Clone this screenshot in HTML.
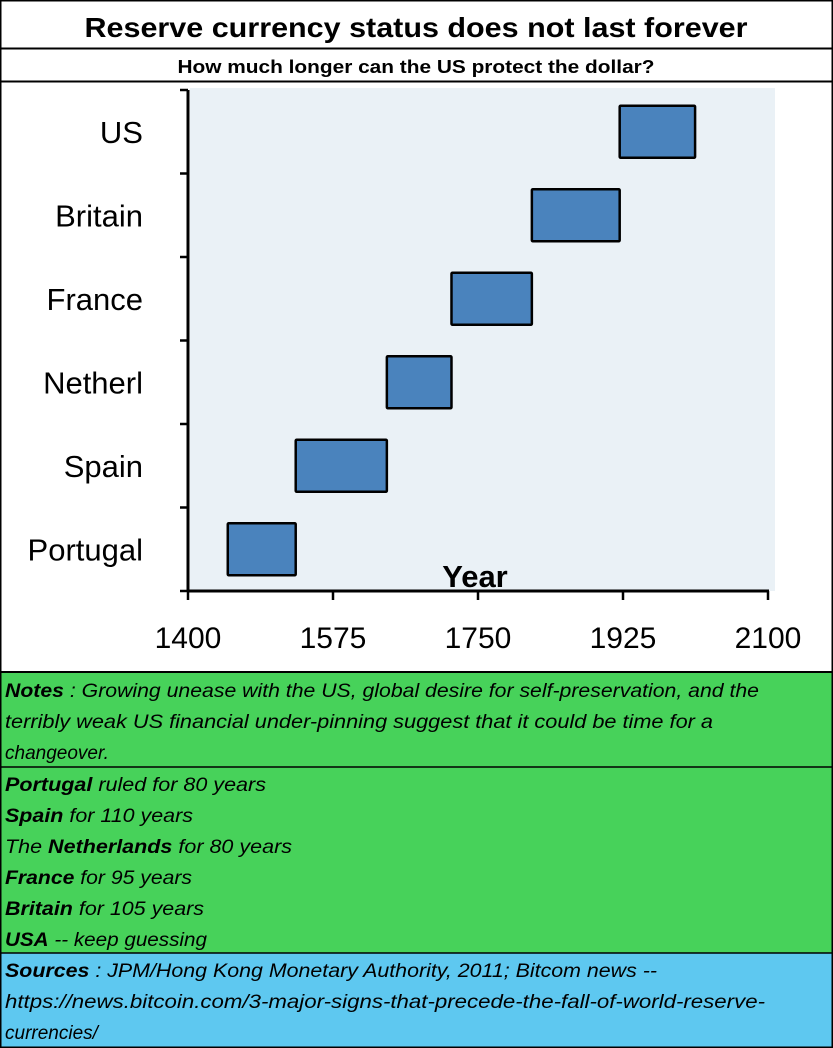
<!DOCTYPE html>
<html><head><meta charset="utf-8"><style>
html,body{margin:0;padding:0;background:#fff}
svg{display:block;font-family:"Liberation Sans",sans-serif}
</style></head><body>
<svg id="chart" width="833" height="1048" viewBox="0 0 833 1048">
<rect x="0" y="0" width="833" height="1048" fill="#fff"/>
<text x="416" y="37" text-anchor="middle" font-size="28" font-weight="bold" textLength="663" lengthAdjust="spacingAndGlyphs">Reserve currency status does not last forever</text>
<line x1="0" y1="48.5" x2="833" y2="48.5" stroke="#000" stroke-width="2"/>
<text x="416" y="73" text-anchor="middle" font-size="18" font-weight="bold" textLength="477" lengthAdjust="spacingAndGlyphs">How much longer can the US protect the dollar?</text>
<line x1="0" y1="81.5" x2="833" y2="81.5" stroke="#000" stroke-width="2"/>
<rect x="190" y="88" width="585" height="503" fill="#eaf1f6"/>
<g id="plot"></g>
<rect x="1" y="672" width="831" height="95" fill="#47d25a"/>
<rect x="1" y="767" width="831" height="186" fill="#47d25a"/>
<rect x="1" y="953" width="831" height="94" fill="#5ec8f0"/>
<line x1="0" y1="672" x2="833" y2="672" stroke="#000" stroke-width="2"/>
<line x1="0" y1="767" x2="833" y2="767" stroke="#000" stroke-width="1.5"/>
<line x1="0" y1="953" x2="833" y2="953" stroke="#000" stroke-width="1.5"/>
<g font-size="19" font-style="italic" fill="#000">
<text x="5" y="697" textLength="754" lengthAdjust="spacingAndGlyphs"><tspan font-weight="bold">Notes</tspan> : Growing unease with the US, global desire for self-preservation, and the</text>
<text x="5" y="728" textLength="708" lengthAdjust="spacingAndGlyphs">terribly weak US financial under-pinning suggest that it could be time for a</text>
<text x="5" y="759">changeover.</text>
<text x="5" y="791" textLength="261" lengthAdjust="spacingAndGlyphs"><tspan font-weight="bold">Portugal</tspan>  ruled for 80 years</text>
<text x="5" y="822" textLength="188" lengthAdjust="spacingAndGlyphs"><tspan font-weight="bold">Spain</tspan>  for 110 years</text>
<text x="5" y="853" textLength="287" lengthAdjust="spacingAndGlyphs">The  <tspan font-weight="bold">Netherlands</tspan>  for 80 years</text>
<text x="5" y="884" textLength="187" lengthAdjust="spacingAndGlyphs"><tspan font-weight="bold">France</tspan>  for 95 years</text>
<text x="5" y="915" textLength="199" lengthAdjust="spacingAndGlyphs"><tspan font-weight="bold">Britain</tspan>  for 105 years</text>
<text x="5" y="946" textLength="202" lengthAdjust="spacingAndGlyphs"><tspan font-weight="bold">USA</tspan>  -- keep guessing</text>
<text x="5" y="977" textLength="652" lengthAdjust="spacingAndGlyphs"><tspan font-weight="bold">Sources</tspan> : JPM/Hong Kong Monetary Authority, 2011; Bitcom news --</text>
<text x="5" y="1008" textLength="760" lengthAdjust="spacingAndGlyphs">https://news.bitcoin.com/3-major-signs-that-precede-the-fall-of-world-reserve-</text>
<text x="5" y="1039">currencies/</text>
</g>
<rect x="0.75" y="0.75" width="831.5" height="1046.5" fill="none" stroke="#000" stroke-width="1.5"/>
</svg>
<script>
const countries = ["Portugal","Spain","Netherl","France","Britain","US"];
const startYears = [1448, 1530, 1640, 1718, 1815, 1921];
const endYears = [1530, 1640, 1718, 1815, 1921, 2012];
const xTicks = [1400, 1575, 1750, 1925, 2100];

const NS = "http://www.w3.org/2000/svg";
const g = document.getElementById("plot");
const x0 = 188, x1 = 768, yTop = 90, yBot = 591;
const xScale = v => x0 + (v - 1400) / 700 * (x1 - x0);
const band = (yBot - yTop) / countries.length;
const yScale = i => yBot - (i + 0.5) * band;
function mk(tag, attrs) { const e = document.createElementNS(NS, tag); for (const k in attrs) e.setAttribute(k, attrs[k]); g.appendChild(e); return e; }

const yAxis = mk("line", {x1: x0, y1: yTop, x2: x0, y2: yBot + 1, stroke: "#000", "stroke-width": 3});


const xAxis = mk("line", {x1: x0 - 1, y1: yBot, x2: x1 + 1, y2: yBot, stroke: "#000", "stroke-width": 3});



for (let i = 0; i <= countries.length; i++) {
  const ty = yBot - i * band;
  const t = mk("line", {x1: x0 - 8, y1: ty, x2: x0, y2: ty, stroke: "#000", "stroke-width": 2.5});
  
  
}
xTicks.forEach(v => {
  const tx = xScale(v);
  const t = mk("line", {x1: tx, y1: yBot, x2: tx, y2: yBot + 9, stroke: "#000", "stroke-width": 2.5});
  
  
  const l = mk("text", {x: tx, y: 648, "text-anchor": "middle", "font-size": 30});
  l.textContent = v;
  
  
});
countries.forEach((c, i) => {
  const cy = yScale(i);
  const l = mk("text", {x: 143, y: cy + 11, "text-anchor": "end", "font-size": 31});
  l.textContent = c;
  
  
  const xs = xScale(startYears[i]), xe = xScale(endYears[i]);
  const r = mk("rect", {x: xs, y: cy - 26, width: xe - xs, height: 52, fill: "#4a83bd", stroke: "#000", "stroke-width": 2.5, rx: 1});
  
  
});
const yl = mk("text", {x: 475, y: 587, "text-anchor": "middle", "font-size": 31, "font-weight": "bold"});
yl.textContent = "Year";


</script>
</body></html>
